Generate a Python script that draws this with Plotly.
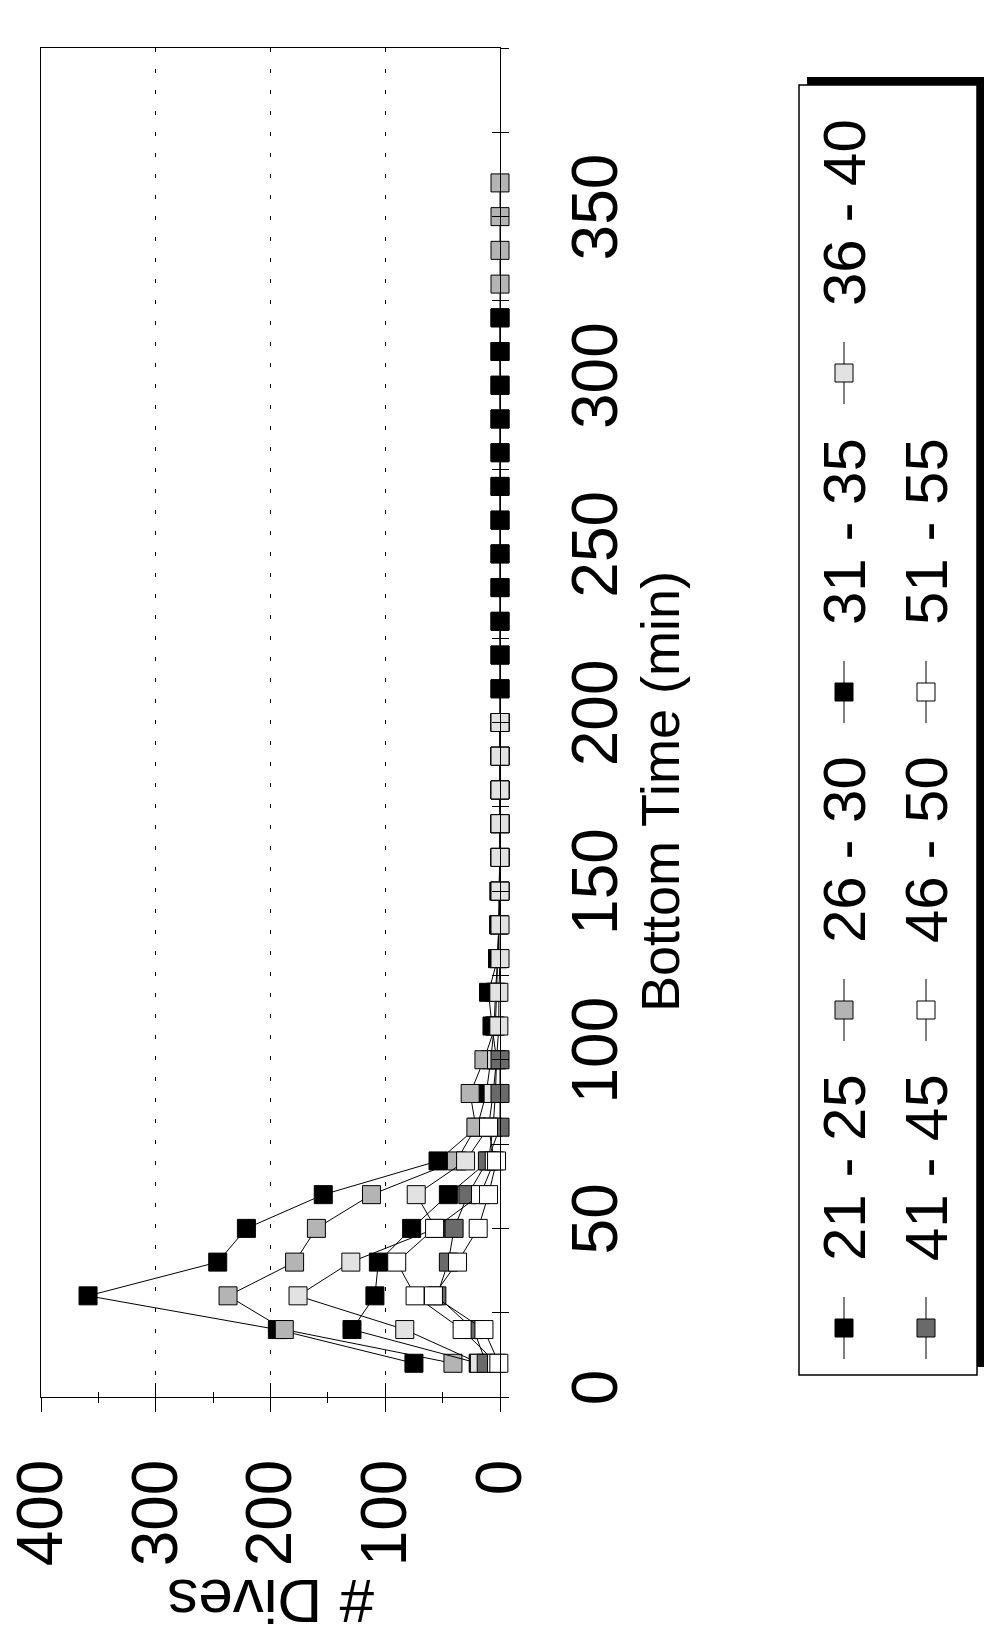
import plotly.graph_objects as go

# ---------------- data ----------------
times = [10, 20, 30, 40, 50, 60, 70, 80, 90, 100, 110, 120, 130, 140, 150, 160, 170, 180,
         190, 200, 210, 220, 230, 240, 250, 260, 270, 280, 290, 300, 310, 320, 330, 340, 350, 360]

series_names = ["21 - 25", "26 - 30", "31 - 35", "36 - 40", "41 - 45", "46 - 50", "51 - 55"]

dives_21_25 = [75, 194, 359, 246, 221, 154, 54, 20, 12, 8, 5, 4, 2, 1, 1, 0, 0, 0, 0, 0]
dives_26_30 = [41, 188, 237, 179, 160, 112, 38, 21, 26, 14, 4, 3, 2, 1, 0, 0, 0, 0,
               0, 0, 0, 0, 0, 0, 0, 0, 0, 0, 0, 0, 0, 0, 0, 0, 0, 0]
dives_31_35 = [19, 129, 109, 106, 77, 45, 10, 6, 4, 3, 7, 10, 2, 1, 0, 0, 0, 0,
               0, 0, 0, 0, 0, 0, 0, 0, 0, 0, 0, 0, 0, 0]
dives_36_40 = [18, 83, 176, 130, 56, 73, 30, 10, 6, 3, 1, 1, 0, 0, 0, 0, 0, 0, 0, 0]
dives_41_45 = [12, 23, 55, 45, 40, 28, 11, 0, 0, 0]
dives_46_50 = [3, 33, 74, 90, 57, 17, 5, 10]
dives_51_55 = [1, 14, 58, 37, 19, 10, 3]

all_series = [dives_21_25, dives_26_30, dives_31_35, dives_36_40,
              dives_41_45, dives_46_50, dives_51_55]

dive_ticks = [0, 100, 200, 300, 400]
time_ticks = [0, 50, 100, 150, 200, 250, 300, 350, 400]

# ---------------- styling ----------------
fill_colors = ["#000000", "#b4b4b4", "#000000", "#e2e2e2", "#6a6a6a", "#ffffff", "#ffffff"]
FONT = "Liberation Sans, Arial, Helvetica, sans-serif"
MSIZE = 18

W, H = 984, 1635
PL, PR, PT, PB = 41, 500, 48, 1397   # plot area in pixels


def fx(px):
    return px / W


def fy(py):
    return 1 - py / H


fig = go.Figure()

for name, vals, col in zip(series_names, all_series, fill_colors):
    fig.add_trace(go.Scatter(
        x=vals, y=times[:len(vals)], mode="lines+markers", name=name,
        line=dict(color="black", width=1),
        marker=dict(symbol="square", size=MSIZE, color=col,
                    line=dict(color="black", width=1)),
        cliponaxis=False, showlegend=False, xaxis="x", yaxis="y"))

# dummy trace so the overlay axes (inner half of cross ticks) render
fig.add_trace(go.Scatter(x=[None], y=[None], xaxis="x2", yaxis="y2", showlegend=False))

# ---------------- rotated legend (pixel overlay axes) ----------------
leg_col_x = [844, 926]
leg_item_y = [1328, 1010, 692, 373]
leg_pos = []
for i in range(len(series_names)):
    col = 0 if i < 4 else 1
    row = i if i < 4 else i - 4
    leg_pos.append((leg_col_x[col], leg_item_y[row]))

seg_x, seg_y = [], []
for (lx, ly) in leg_pos:
    seg_x += [lx, lx, None]
    seg_y += [ly - 31, ly + 31, None]
fig.add_trace(go.Scatter(x=seg_x, y=seg_y, mode="lines", line=dict(color="black", width=1),
                         xaxis="x3", yaxis="y3", showlegend=False, hoverinfo="skip"))
fig.add_trace(go.Scatter(x=[p[0] for p in leg_pos], y=[p[1] for p in leg_pos], mode="markers",
                         marker=dict(symbol="square", size=MSIZE, color=fill_colors,
                                     line=dict(color="black", width=1)),
                         xaxis="x3", yaxis="y3", showlegend=False, hoverinfo="skip"))

annotations = []
for name, (lx, ly) in zip(series_names, leg_pos):
    annotations.append(dict(x=lx, y=ly - 160, xref="x3", yref="y3", text=name, showarrow=False,
                            textangle=-90, font=dict(family=FONT, size=60, color="black")))

annotations.append(dict(x=271, y=1602, xref="x3", yref="y3", text="# Dives", showarrow=False,
                        textangle=180, font=dict(family=FONT, size=62, color="black")))
annotations.append(dict(x=660, y=792, xref="x3", yref="y3", text="Bottom Time (min)",
                        showarrow=False, textangle=-90,
                        font=dict(family=FONT, size=54, color="black")))

shapes = [
    dict(type="rect", xref="x3", yref="y3", x0=807, x1=986, y0=77, y1=1367,
         fillcolor="black", line=dict(width=0), layer="below"),
    dict(type="rect", xref="x3", yref="y3", x0=799, x1=977, y0=85, y1=1375,
         fillcolor="white", line=dict(color="black", width=1.5), layer="below"),
]

tickfont = dict(family=FONT, size=64, color="black")

fig.update_layout(
    template="none",
    width=W, height=H, margin=dict(l=0, r=0, t=0, b=0, pad=0), autosize=False,
    paper_bgcolor="white", plot_bgcolor="rgba(0,0,0,0)",
    showlegend=False,
    annotations=annotations, shapes=shapes,
    xaxis=dict(domain=[fx(PL), fx(PR)], range=[400, 0], anchor="y", automargin=False,
               tickvals=dive_ticks, ticktext=[str(v) for v in dive_ticks],
               ticks="outside", ticklen=14, tickwidth=1, tickcolor="black",
               minor=dict(dtick=50, ticks="outside", ticklen=5, tickcolor="black", showgrid=False),
               tickangle=-90, tickfont=tickfont, ticklabelstandoff=22,
               showline=True, linecolor="black", linewidth=1, mirror=True,
               showgrid=True, gridcolor="black", gridwidth=1, griddash="4px,17px",
               zeroline=False, fixedrange=True),
    yaxis=dict(domain=[fy(PB), fy(PT)], range=[0, 400], anchor="x", side="right", automargin=False,
               tickvals=time_ticks, ticktext=[str(v) for v in time_ticks],
               ticks="outside", ticklen=8, tickwidth=1, tickcolor="black",
               minor=dict(dtick=25, ticks="outside", ticklen=8, tickcolor="black", showgrid=False),
               tickangle=-90, tickfont=tickfont, ticklabelstandoff=31,
               showline=True, linecolor="black", linewidth=1, mirror=True,
               showgrid=False, zeroline=False, fixedrange=True),
    xaxis2=dict(domain=[fx(PL), fx(PR)], range=[400, 0], overlaying="x", anchor="y2", side="bottom",
                automargin=False,
                tickvals=dive_ticks, ticks="inside", ticklen=14, tickcolor="black",
                minor=dict(dtick=50, ticks="inside", ticklen=5, tickcolor="black"),
                showticklabels=False, showgrid=False, zeroline=False, showline=False, fixedrange=True),
    yaxis2=dict(domain=[fy(PB), fy(PT)], range=[0, 400], overlaying="y", anchor="x2", side="right",
                automargin=False,
                tickvals=time_ticks, ticks="inside", ticklen=8, tickcolor="black",
                minor=dict(dtick=25, ticks="inside", ticklen=8, tickcolor="black"),
                showticklabels=False, showgrid=False, zeroline=False, showline=False, fixedrange=True),
    xaxis3=dict(domain=[0, 1], range=[0, W], anchor="y3", visible=False, fixedrange=True,
                automargin=False),
    yaxis3=dict(domain=[0, 1], range=[H, 0], anchor="x3", visible=False, fixedrange=True,
                automargin=False),
)

fig.write_html("out.html")
